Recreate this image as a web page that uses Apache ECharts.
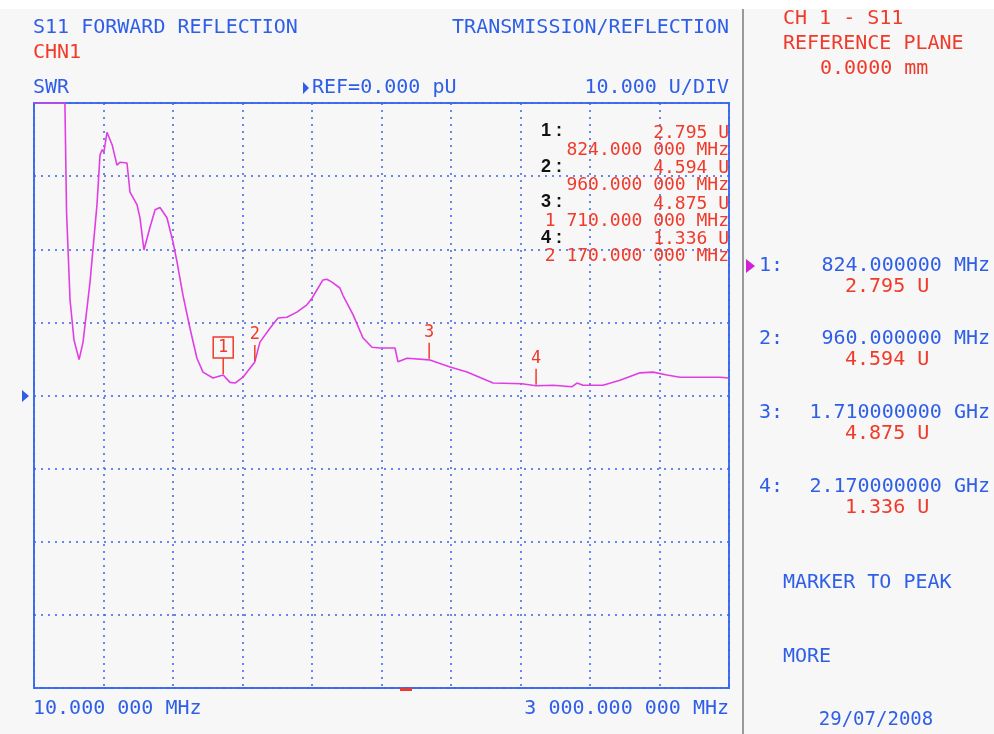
<!DOCTYPE html>
<html>
<head>
<meta charset="utf-8">
<script src="https://cdn.jsdelivr.net/npm/echarts@6/dist/echarts.min.js"></script>
<style>
  html, body { margin: 0; padding: 0; background: #f7f7f7; }
  #chart { width: 994px; height: 734px; }
</style>
</head>
<body>
<div id="chart"></div>
<script>
// trace (MHz, SWR units)
const freqMHz = [10, 143, 150, 165, 182, 204, 221, 251, 281, 294, 303, 311, 324, 346, 367, 380, 410, 423, 453, 466, 483, 509, 531, 552, 582, 608, 625, 651, 681, 711, 737, 780, 824, 853, 875, 909, 960, 982, 1025, 1060, 1098, 1141, 1184, 1206, 1253, 1270, 1292, 1326, 1339, 1382, 1425, 1464, 1498, 1563, 1576, 1615, 1710, 1800, 1873, 1985, 2109, 2170, 2243, 2325, 2346, 2372, 2458, 2531, 2617, 2673, 2733, 2789, 2875, 2961, 3000];
const swrValues = [40, 40, 25.1, 13.1, 7.6, 4.9, 7.3, 15.5, 26.1, 32.9, 33.6, 33.3, 36.0, 34.3, 31.5, 31.9, 31.8, 27.8, 26.1, 24.3, 19.9, 23.0, 25.4, 25.7, 24.3, 21.0, 18.3, 13.7, 9.2, 5.1, 3.2, 2.4, 2.795, 1.8, 1.7, 2.5, 4.594, 7.3, 9.2, 10.6, 10.7, 11.4, 12.4, 13.3, 15.8, 15.9, 15.5, 14.7, 13.7, 11.1, 7.9, 6.6, 6.5, 6.5, 4.6, 5.1, 4.875, 3.9, 3.2, 1.7, 1.6, 1.336, 1.4, 1.2, 1.7, 1.4, 1.4, 2.1, 3.1, 3.2, 2.8, 2.5, 2.5, 2.5, 2.4];

const markerIds = ['1', '2', '3', '4'];
const markerFreq = [824, 960, 1710, 2170];
const markerSwr = [2.795, 4.594, 4.875, 1.336];
const markerListFreq = ['824.000 000 MHz', '960.000 000 MHz', '1 710.000 000 MHz', '2 170.000 000 MHz'];
const markerPanelFreq = ['824.000000 MHz', '960.000000 MHz', '1.710000000 GHz', '2.170000000 GHz'];

const xStart = 10, xStop = 3000;
const yMin = -40, yMax = 40, yDiv = 10;

const BLUE = '#2f5fe6';
const RED = '#f03a2a';
const MONO = '"DejaVu Sans Mono", "Liberation Mono", monospace';

function txt(text, x, y, color, size, align, extra) {
  return {
    type: 'text', z: 10,
    style: Object.assign({
      text: text, x: x, y: y, fill: color,
      font: size + 'px ' + MONO,
      textAlign: align || 'left', textVerticalAlign: 'middle'
    }, extra || {})
  };
}

const graphics = [
  // white strip at the very top of the screenshot
  { type: 'rect', shape: { x: 0, y: 0, width: 994, height: 9 }, style: { fill: '#ffffff' } },
  // separator between trace and softkey panel
  { type: 'rect', shape: { x: 742, y: 9, width: 2, height: 725 }, style: { fill: '#9a9a9a' } },
  txt('S11 FORWARD REFLECTION', 33, 28, BLUE, 20),
  txt('TRANSMISSION/REFLECTION', 729, 28, BLUE, 20, 'right'),
  txt('CHN1', 33, 53, RED, 20),
  txt('SWR', 33, 88, BLUE, 20),
  { type: 'polygon', shape: { points: [[303, 82], [309, 88], [303, 94]] }, style: { fill: BLUE } },
  txt('REF=0.000 pU', 312, 88, BLUE, 20),
  txt('10.000 U/DIV', 729, 88, BLUE, 20, 'right'),
  // reference level arrow on the left
  { type: 'polygon', shape: { points: [[22, 390], [29, 396], [22, 402]] }, style: { fill: BLUE } },
  // red dash on bottom border
  { type: 'rect', shape: { x: 400, y: 688, width: 12, height: 3 }, style: { fill: RED } },
  txt('10.000 000 MHz', 33, 709, BLUE, 20),
  txt('3 000.000 000 MHz', 729, 709, BLUE, 20, 'right'),
  // right panel
  txt('CH 1 - S11', 783, 19, RED, 20),
  txt('REFERENCE PLANE', 783, 44, RED, 20),
  txt('0.0000 mm', 820, 69, RED, 20),
  { type: 'polygon', shape: { points: [[746, 259], [755, 266], [746, 273]] }, style: { fill: '#d020d8' } },
  txt('MARKER TO PEAK', 783, 583, BLUE, 20),
  txt('MORE', 783, 657, BLUE, 20),
  txt('29/07/2008', 876, 720, BLUE, 19, 'center')
];

const panelRows = [266, 339, 413, 487];
markerIds.forEach(function (id, i) {
  // in-plot marker readout
  const y = 131.5 + 35.5 * i;
  graphics.push({
    type: 'text', z: 10,
    style: { text: id + ' :', x: 541, y: y, fill: '#111', font: 'bold 18px "Liberation Sans", Arial, sans-serif', textVerticalAlign: 'middle' }
  });
  graphics.push(txt(markerSwr[i].toFixed(3) + ' U', 729, y + 1.5, RED, 18, 'right'));
  graphics.push(txt(markerListFreq[i], 729, y + 18.5, RED, 18, 'right'));
  // softkey panel readout
  graphics.push(txt(id + ':', 759, panelRows[i], BLUE, 20));
  graphics.push(txt(markerPanelFreq[i], 990, panelRows[i], BLUE, 20, 'right'));
  graphics.push(txt(markerSwr[i].toFixed(3) + ' U', 845, panelRows[i] + 20.5, RED, 20));
});

const chart = echarts.init(document.getElementById('chart'), null, { width: 994, height: 734 });

const gridLine = { show: true, lineStyle: { color: '#3b63e6', type: [2, 5], width: 1.5 } };

chart.setOption({
  backgroundColor: '#f7f7f7',
  animation: false,
  grid: {
    left: 34, top: 103, width: 695, height: 585,
    show: true, borderColor: '#3f70f2', borderWidth: 2, backgroundColor: 'transparent'
  },
  xAxis: [
    {
      type: 'value', min: xStart, max: xStop,
      axisLine: { show: false }, axisTick: { show: false }, axisLabel: { show: false }, splitLine: { show: false }
    },
    {
      // 10 horizontal divisions
      type: 'value', min: 0, max: 10, interval: 1,
      axisLine: { show: false }, axisTick: { show: false }, axisLabel: { show: false }, splitLine: gridLine
    }
  ],
  yAxis: {
    type: 'value', min: yMin, max: yMax, interval: yDiv,
    axisLine: { show: false }, axisTick: { show: false }, axisLabel: { show: false }, splitLine: gridLine
  },
  graphic: graphics,
  series: [
    {
      type: 'line',
      xAxisIndex: 0,
      data: freqMHz.map(function (f, i) { return [f, swrValues[i]]; }),
      symbol: 'none',
      lineStyle: { color: '#e03ee4', width: 1.6 },
      z: 3
    },
    {
      type: 'custom',
      xAxisIndex: 0,
      data: markerFreq.map(function (f, i) { return [f, markerSwr[i], i]; }),
      renderItem: function (params, api) {
        const p = api.coord([api.value(0), api.value(1)]);
        const idx = api.value(2);
        const children = [
          { type: 'line', shape: { x1: p[0], y1: p[1] - 1, x2: p[0], y2: p[1] - 17 }, style: { stroke: RED, lineWidth: 1.5 } }
        ];
        if (idx === 0) {
          children.push({ type: 'rect', shape: { x: p[0] - 10, y: p[1] - 38, width: 20, height: 21 }, style: { fill: 'none', stroke: RED, lineWidth: 1.5 } });
          children.push({ type: 'text', style: { text: markerIds[idx], x: p[0], y: p[1] - 27, fill: RED, font: '17px ' + MONO, textAlign: 'center', textVerticalAlign: 'middle' } });
        } else {
          children.push({ type: 'text', style: { text: markerIds[idx], x: p[0], y: p[1] - 27, fill: RED, font: '17px ' + MONO, textAlign: 'center', textVerticalAlign: 'middle' } });
        }
        return { type: 'group', children: children };
      },
      z: 4
    }
  ]
});
</script>
</body>
</html>
